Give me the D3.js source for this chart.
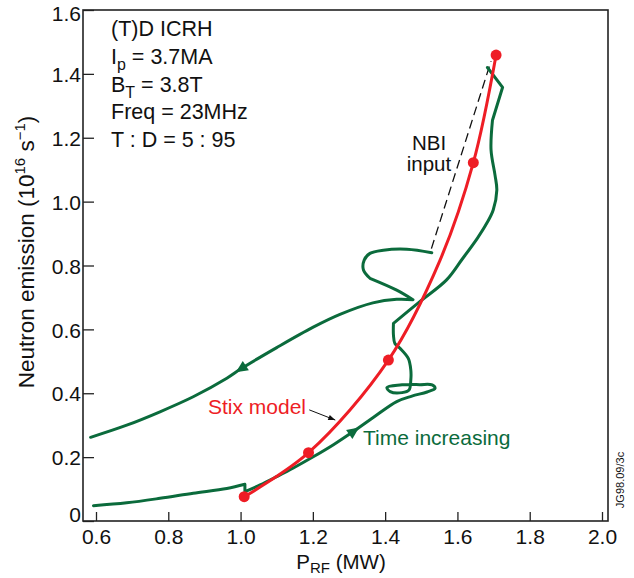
<!DOCTYPE html>
<html><head><meta charset="utf-8">
<script src="https://cdn.jsdelivr.net/npm/d3@7"></script>
<style>
html,body{margin:0;padding:0;background:#fff}
svg{display:block}
text{font-family:"Liberation Sans",Arial,Helvetica,sans-serif}
</style>
</head><body>
<svg id="c" width="634" height="578"></svg>
<script>
// ---------- data ----------
const xTicks = [0.6, 0.8, 1.0, 1.2, 1.4, 1.6, 1.8, 2.0];
const yTicks = [0, 0.2, 0.4, 0.6, 0.8, 1.0, 1.2, 1.4, 1.6];

// green trajectory, rising part (time increasing), P_RF (MW)
const riseP = [0.593,0.685,0.777,0.869,0.962,1.012,1.012,1.054,1.100,1.146,1.201,1.257,1.312,1.367,1.432,1.474,1.516,1.538,1.530,1.496,1.441,1.405,1.414,1.447,1.466,1.471,1.471,1.464,1.441,1.427,1.423,1.423,1.496,1.570,1.612,1.655,1.681,1.699,1.709,1.704,1.693,1.697,1.725,1.683];
// neutron emission (1e16 /s)
const riseN = [0.048,0.057,0.071,0.087,0.102,0.115,0.092,0.113,0.139,0.166,0.201,0.239,0.280,0.324,0.374,0.391,0.404,0.415,0.426,0.427,0.426,0.418,0.405,0.402,0.410,0.441,0.473,0.509,0.541,0.556,0.582,0.619,0.687,0.755,0.818,0.885,0.932,0.974,1.036,1.083,1.162,1.255,1.358,1.420];
// indices where the rising trace has a sharp corner
const riseCorners = [5, 6, 31, 41, 42];

// green trajectory after NBI jump (hook + decay branch)
const fallP = [1.529,1.460,1.395,1.358,1.342,1.340,1.358,1.432,1.477,1.432,1.366,1.275,1.201,1.100,1.003,0.962,0.869,0.777,0.685,0.585];
const fallN = [0.840,0.851,0.848,0.838,0.817,0.786,0.760,0.723,0.693,0.694,0.683,0.647,0.607,0.543,0.478,0.447,0.389,0.342,0.300,0.262];
const fallCorners = [6, 8];

// NBI input jump (dashed)
const nbiP = [1.528, 1.693];
const nbiN = [0.853, 1.440];

// Stix model curve and its marked points
const stixP = [1.010, 1.188, 1.409, 1.552, 1.644, 1.707];
const stixN = [0.076, 0.214, 0.504, 0.817, 1.122, 1.459];
const stixDotP = [1.010, 1.188, 1.409, 1.644, 1.707];
const stixDotN = [0.076, 0.214, 0.504, 1.122, 1.459];

// direction arrows on trajectory
const arrowsP = [1.003, 1.312];
const arrowsN = [0.478, 0.280];
const arrowsToP = [0.962, 1.367];
const arrowsToN = [0.447, 0.324];

const annotation = ["(T)D ICRH", "I|p| = 3.7MA", "B|T| = 3.8T", "Freq = 23MHz", "T : D = 5 : 95"];

// ---------- drawing ----------
const GREEN = "#0b6b3c", RED = "#ee1d25";
const svg = d3.select("#c");
const L = 83, R = 608, T = 10, B = 521;
const x = d3.scaleLinear().domain([0.6, 2.0]).range([96, 602]);
const y = d3.scaleLinear().domain([0, 1.6]).range([B, T]);

// axes
const fmt = d => d === 0 ? "0" : d.toFixed(1);
const gx = svg.append("g").attr("transform", `translate(0,${B})`)
  .call(d3.axisBottom(x).tickValues(xTicks).tickFormat(fmt).tickSizeInner(-9).tickSizeOuter(0).tickPadding(8));
const gy = svg.append("g").attr("transform", `translate(${L},0)`)
  .call(d3.axisLeft(y).tickValues(yTicks).tickFormat(fmt).tickSizeInner(-11).tickSizeOuter(0).tickPadding(2));
[gx, gy].forEach(g => {
  g.select(".domain").remove();
  g.selectAll(".tick line").attr("stroke", "#222").attr("stroke-width", 1.3);
  g.selectAll(".tick text").attr("fill", "#111").style("font-size", "21px")
    .style("font-family", '"Liberation Sans",Arial,sans-serif');
});
gy.selectAll(".tick text").attr("x", -2)
  .attr("y", d => d === 0 ? -6 : (d === 1.6 ? 4 : 1));

// frame
svg.append("rect").attr("x", L).attr("y", T).attr("width", R - L).attr("height", B - T)
  .attr("fill", "none").attr("stroke", "#222").attr("stroke-width", 1.6);

const zip = (a, b) => a.map((v, i) => [v, b[i]]);
const line = d3.line().x(d => x(d[0])).y(d => y(d[1]));
const smooth = d3.line().x(d => x(d[0])).y(d => y(d[1])).curve(d3.curveCatmullRom.alpha(0.5));

// NBI dashed
svg.append("path").attr("d", line(zip(nbiP, nbiN))).attr("fill", "none")
  .attr("stroke", "#111").attr("stroke-width", 1.3).attr("stroke-dasharray", "9,5");

// green trajectory, split at sharp corners, smooth elsewhere
function drawTrace(P, N, corners) {
  const pts = zip(P, N);
  const cuts = [0, ...corners, pts.length - 1];
  let d = "";
  for (let k = 0; k < cuts.length - 1; k++) {
    const seg = pts.slice(cuts[k], cuts[k + 1] + 1);
    let s = smooth(seg);
    if (k > 0) s = s.replace(/^M[^CLZ]*/, "");
    d += s;
  }
  svg.append("path").attr("d", d).attr("fill", "none")
    .attr("stroke", GREEN).attr("stroke-width", 3).attr("stroke-linejoin", "round").attr("stroke-linecap", "round");
}
drawTrace(riseP, riseN, riseCorners);
drawTrace(fallP, fallN, fallCorners);

// arrows
arrowsP.forEach((p, i) => {
  const px = x(p), py = y(arrowsN[i]);
  const ang = Math.atan2(y(arrowsToN[i]) - py, x(arrowsToP[i]) - px) * 180 / Math.PI;
  svg.append("path").attr("d", "M7,0 L-5,-5.5 L-5,5.5 Z").attr("fill", GREEN)
    .attr("transform", `translate(${px},${py}) rotate(${ang})`);
});

// Stix model curve
svg.append("path").attr("d", smooth(zip(stixP, stixN)))
  .attr("fill", "none").attr("stroke", RED).attr("stroke-width", 3);
svg.selectAll("circle.dot").data(zip(stixDotP, stixDotN)).enter().append("circle")
  .attr("cx", d => x(d[0])).attr("cy", d => y(d[1])).attr("r", 5.5).attr("fill", RED);

// annotation block
annotation.forEach((s, i) => {
  const t = svg.append("text").attr("x", 111).attr("y", 36 + i * 27.8).style("font-size", "21.5px").attr("fill", "#111");
  const parts = s.split("|");
  if (parts.length === 1) t.text(s);
  else {
    t.append("tspan").text(parts[0]);
    t.append("tspan").attr("dy", 6).style("font-size", "16px").text(parts[1]);
    t.append("tspan").attr("dy", -6).text(parts[2]);
  }
});

// NBI input label
svg.append("text").attr("x", 429).attr("y", 150).attr("text-anchor", "middle").style("font-size", "20.5px").attr("fill", "#111").text("NBI");
svg.append("text").attr("x", 429).attr("y", 171).attr("text-anchor", "middle").style("font-size", "20.5px").attr("fill", "#111").text("input");

// Stix model label with arrow
svg.append("text").attr("x", 208).attr("y", 414).style("font-size", "21px").attr("fill", RED).text("Stix model");
const ax0 = x(1.19), ay0 = y(0.348), ax1 = x(1.262), ay1 = y(0.316);
svg.append("line").attr("x1", ax0).attr("y1", ay0).attr("x2", ax1).attr("y2", ay1).attr("stroke", "#111").attr("stroke-width", 1);
const aang = Math.atan2(ay1 - ay0, ax1 - ax0) * 180 / Math.PI;
svg.append("path").attr("d", "M0,0 L-7,-2.8 L-7,2.8 Z").attr("fill", "#111")
  .attr("transform", `translate(${ax1},${ay1}) rotate(${aang})`);

// Time increasing label
svg.append("text").attr("x", 363).attr("y", 445).style("font-size", "21px").attr("fill", GREEN).text("Time increasing");

// axis titles
const yt = svg.append("text").attr("transform", "translate(34,252) rotate(-90)").attr("text-anchor", "middle")
  .style("font-size", "22.5px").attr("fill", "#111");
yt.append("tspan").text("Neutron emission (10");
yt.append("tspan").attr("dy", -9).style("font-size", "15px").text("16");
yt.append("tspan").attr("dy", 9).text(" s");
yt.append("tspan").attr("dy", -9).style("font-size", "15px").text("\u22121");
yt.append("tspan").attr("dy", 9).text(")");

const xt = svg.append("text").attr("x", 341).attr("y", 569).attr("text-anchor", "middle")
  .style("font-size", "20.5px").attr("fill", "#111");
xt.append("tspan").text("P");
xt.append("tspan").attr("dy", 4).style("font-size", "15px").text("RF");
xt.append("tspan").attr("dy", -4).text(" (MW)");

// figure id
svg.append("text").attr("transform", "translate(624,480) rotate(-90)").attr("text-anchor", "middle")
  .style("font-size", "11px").attr("fill", "#111").text("JG98.09/3c");
</script>
</body></html>
